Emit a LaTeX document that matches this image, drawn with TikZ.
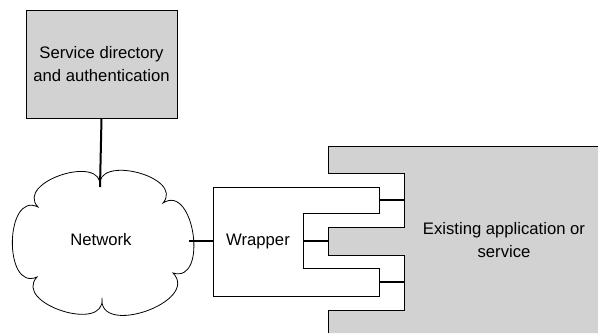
\documentclass[tikz,border=0pt]{standalone}
\usepackage{fontspec}
\setmainfont{Liberation Sans}
\usepackage{tikz}

\begin{document}
\begin{tikzpicture}[x=0.75pt,y=0.75pt,
        shade/.style={fill=gray!35},
        edge/.style={line width=0.6pt},
        link/.style={line width=1.5pt},
        puff/.style={looseness=1.35},
        lbl/.style={font=\fontsize{12.5}{17}\selectfont,align=center}]
        \useasboundingbox (0,0) rectangle (598,333);
        \fill[shade] (598,187) -- (328,187) -- (328,160) -- (404,160) -- (404,106) -- (328,106) -- (328,78) -- (404,78) -- (404,23) -- (328,23) -- (328,0) -- (598,0) -- cycle;
        \draw[edge] (598,187) -- (328,187) -- (328,160) -- (404,160) -- (404,106) -- (328,106) -- (328,78) -- (404,78) -- (404,23) -- (328,23) -- (328,0);
        \draw[edge] (213,146) -- (379,146) -- (379,120) -- (303,120) -- (303,65) -- (379,65) -- (379,37) -- (213,37) -- cycle;
        \draw[edge] (100,146) to[out=100,in=50,puff] (163,130)
            to[out=33,in=-17,puff] (173,60)
            to[out=-46,in=-96,puff] (102,35)
            to[out=-83,in=-133,puff] (37,56)
            to[out=204,in=154,puff] (38,126)
            to[out=133,in=83,puff] (100,146);
        \coordinate (nettop) at (100,146);
        \coordinate (netright) at (189,92);
        \coordinate (wrapleft) at (213,92);
        \coordinate (wrapmid) at (303,92);
        \coordinate (appmid) at (328,92);
        \coordinate (wraptop) at (379,133);
        \coordinate (apptop) at (404,133);
        \coordinate (wrapbot) at (379,51);
        \coordinate (appbot) at (404,51);
        \node[draw,edge,shade,lbl,minimum width=113.25pt,minimum height=81pt] (dir) at (101.5,269) {Service directory\\and authentication};
        \node[lbl] (net) at (101,93) {Network};
        \node[lbl] (wrap) at (258,92) {Wrapper};
        \node[lbl] (app) at (504,93) {Existing application or\\service};
        \draw[link] (dir.south) -- (nettop);
        \draw[link] (netright) -- (wrapleft);
        \draw[link] (wrapmid) -- (appmid);
        \draw[link] (wraptop) -- (apptop);
        \draw[link] (wrapbot) -- (appbot);
\end{tikzpicture}
\end{document}
